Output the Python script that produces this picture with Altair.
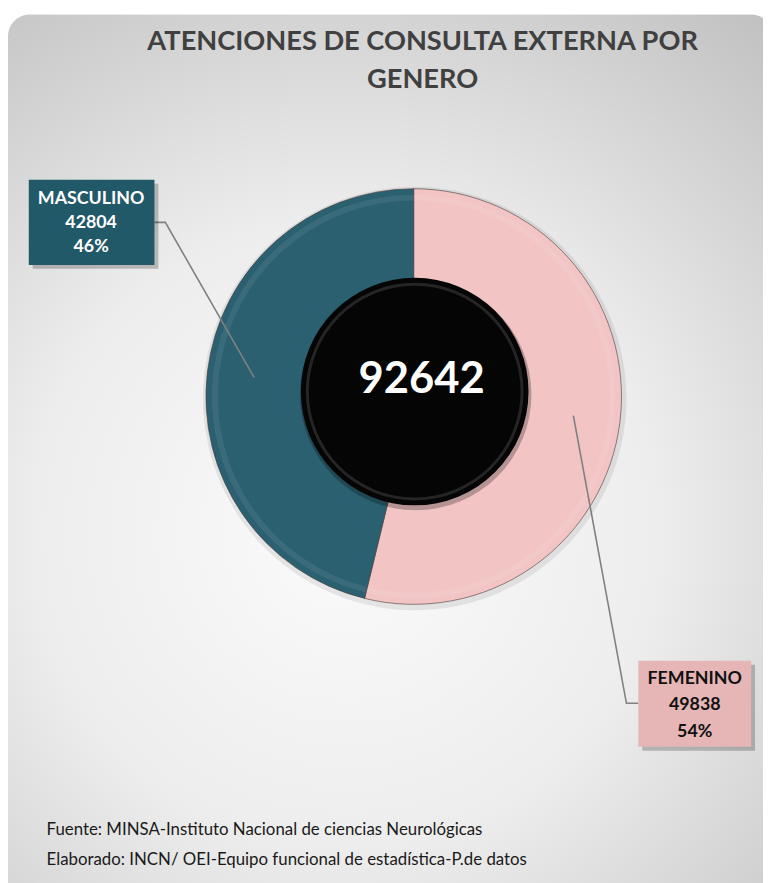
import math
import altair as alt
import pandas as pd

# ---- data ----
categories = ["FEMENINO", "MASCULINO"]
values = [49838, 42804]
slice_colors = ["#f2c4c4", "#2b6070"]
box_colors = ["#e6b5b5", "#225968"]
text_colors = ["#111111", "#ffffff"]
title_lines = ["ATENCIONES DE CONSULTA EXTERNA POR", "GENERO"]
footer_lines = [
    "Fuente: MINSA-Instituto Nacional de ciencias Neurológicas",
    "Elaborado: INCN/ OEI-Equipo funcional de estadística-P.de datos",
]

total = sum(values)
pcts = [round(v / total * 100) for v in values]

W, H = 763, 875
CX, CY = 410, 388
R_OUT, R_IN = 210, 105
FONT = "Lato"

pie_df = pd.DataFrame({"cat": categories, "val": values, "idx": list(range(len(values)))})
one = pd.DataFrame({"a": [0]})

# background panel
panel = alt.Chart(one).mark_rect(
    cornerRadius=22,
    fill={
        "gradient": "radial",
        "x1": 0.45, "y1": 0.58, "r1": 0.0,
        "x2": 0.45, "y2": 0.58, "r2": 0.78,
        "stops": [
            {"offset": 0.0, "color": "#fbfbfb"},
            {"offset": 0.45, "color": "#ededed"},
            {"offset": 1.0, "color": "#bdbdbd"},
        ],
    },
).encode(x=alt.value(0), x2=alt.value(W + 10), y=alt.value(2), y2=alt.value(H + 30))

# soft shadow around ring
halo = alt.Chart(pie_df).mark_arc(radius=R_OUT + 4, innerRadius=R_OUT - 4, color="#000000", opacity=0.08).encode(
    theta=alt.Theta("val:Q", stack=True), order=alt.Order("idx:Q"),
    x=alt.value(CX + 1), y=alt.value(CY + 2),
)

ring = alt.Chart(pie_df).mark_arc(radius=R_OUT, innerRadius=R_IN, stroke="#4a3a3a", strokeWidth=1.0, strokeOpacity=0.6).encode(
    theta=alt.Theta("val:Q", stack=True),
    order=alt.Order("idx:Q"),
    color=alt.Color("cat:N", scale=alt.Scale(domain=categories, range=slice_colors), legend=None),
    x=alt.value(CX), y=alt.value(CY),
)

# soft highlight band (bevel)
bevel = alt.Chart(pie_df).mark_arc(radius=R_OUT - 6, innerRadius=R_OUT - 12, color="#ffffff", opacity=0.07).encode(
    theta=alt.Theta("val:Q", stack=True), order=alt.Order("idx:Q"),
    x=alt.value(CX), y=alt.value(CY),
)

# black centre disc
hole_df = pd.DataFrame({"v": [total]})
disc_shadow = alt.Chart(hole_df).mark_arc(radius=117, innerRadius=0, color="#000000", opacity=0.25).encode(
    theta=alt.Theta("v:Q"), x=alt.value(CX + 2), y=alt.value(CY - 2)
)
disc = alt.Chart(hole_df).mark_arc(radius=115, innerRadius=0, color="#050505").encode(
    theta=alt.Theta("v:Q"), x=alt.value(CX + 1), y=alt.value(CY - 5)
)
disc_rim = alt.Chart(hole_df).mark_arc(radius=110, innerRadius=107, color="#3a3a3a", opacity=0.6).encode(
    theta=alt.Theta("v:Q"), x=alt.value(CX + 1), y=alt.value(CY - 5)
)
center_text = alt.Chart(hole_df).mark_text(
    font=FONT, fontSize=44, fontWeight="bold", color="#ffffff", baseline="middle", align="center"
).encode(text=alt.Text("v:Q", format="d"), x=alt.value(CX + 8), y=alt.value(CY - 17))

# leader lines computed from slice midpoints
box_geo = {
    "FEMENINO": dict(x0=637, y0=655, x1=751, y1=742, edge=637, elbow=625, ly=698, tx=694, ty=[674, 700, 727]),
    "MASCULINO": dict(x0=21, y0=169, x1=148, y1=255, edge=148, elbow=159, ly=212, tx=84, ty=[188, 213, 237]),
}
rows = []
cum = 0
r_mid = (R_OUT + R_IN) / 2 + 5
for c, v in zip(categories, values):
    mid = (cum + v / 2) / total * 2 * math.pi
    cum += v
    g = box_geo[c]
    px = CX + r_mid * math.sin(mid)
    py = CY - r_mid * math.cos(mid)
    rows += [
        {"cat": c, "o": 0, "px": g["edge"], "py": g["ly"]},
        {"cat": c, "o": 1, "px": g["elbow"], "py": g["ly"]},
        {"cat": c, "o": 2, "px": px, "py": py},
    ]
lines_df = pd.DataFrame(rows)
xs = alt.Scale(domain=[0, W], range=[0, W])
ys = alt.Scale(domain=[0, H], range=[0, H])
leaders = alt.Chart(lines_df).mark_line(color="#808080", strokeWidth=1.6).encode(
    x=alt.X("px:Q", scale=xs, axis=None),
    y=alt.Y("py:Q", scale=ys, axis=None),
    detail="cat:N",
    order="o:Q",
)

layers = [panel, halo, ring, bevel, disc_shadow, disc, disc_rim, center_text, leaders]

for c, v, p, bc, tc in zip(categories, values, pcts, box_colors, text_colors):
    g = box_geo[c]
    layers.append(
        alt.Chart(one).mark_rect(color="#000000", opacity=0.22).encode(
            x=alt.value(g["x0"] + 4), x2=alt.value(g["x1"] + 4), y=alt.value(g["y0"] + 4), y2=alt.value(g["y1"] + 4)
        )
    )
    layers.append(
        alt.Chart(one).mark_rect(color=bc).encode(
            x=alt.value(g["x0"]), x2=alt.value(g["x1"]), y=alt.value(g["y0"]), y2=alt.value(g["y1"])
        )
    )
    for txt, yy in zip([c, str(v), f"{p}%"], g["ty"]):
        layers.append(
            alt.Chart(one).mark_text(
                text=txt, font=FONT, fontSize=18, fontWeight="bold", color=tc, align="center", baseline="middle"
            ).encode(x=alt.value(g["tx"]), y=alt.value(yy))
        )

for txt, yy in zip(title_lines, [30, 68]):
    layers.append(
        alt.Chart(one).mark_text(
            text=txt, font=FONT, fontSize=27.5, fontWeight="bold", color="#404040", align="center", baseline="middle"
        ).encode(x=alt.value(419), y=alt.value(yy))
    )

for txt, yy in zip(footer_lines, [826, 856]):
    layers.append(
        alt.Chart(one).mark_text(
            text=txt, font=FONT, fontSize=17, color="#1a1a1a", align="left", baseline="middle"
        ).encode(x=alt.value(39), y=alt.value(yy))
    )

chart = alt.layer(*layers).properties(
    width=W, height=H, padding=0, autosize=alt.AutoSizeParams(type="none"), background="#ffffff"
).configure_view(stroke=None)

chart.save("out.html", embed_options={"renderer": "svg", "actions": False})
